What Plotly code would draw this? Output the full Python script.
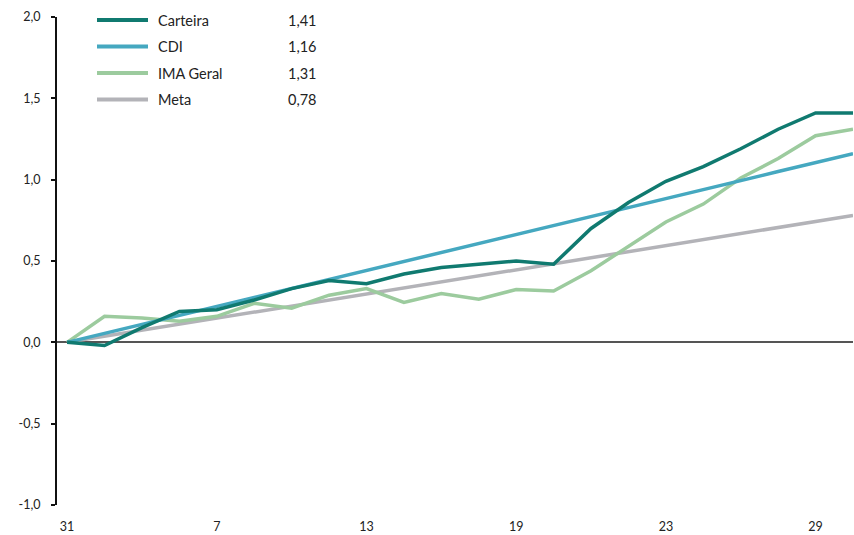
import plotly.graph_objects as go

# Business days of the month (first point is the last day of the previous month)
days = ["31", "2", "5", "6", "7", "8", "9", "12", "13", "14", "15", "16",
        "19", "20", "21", "22", "23", "26", "27", "28", "29", "30"]
tick_days = ["31", "7", "13", "19", "23", "29"]

# y-axis ticks, labelled with comma decimals and a plain hyphen for negatives
y_ticks = [-1.0, -0.5, 0.0, 0.5, 1.0, 1.5, 2.0]
y_tick_text = ["-1,0", "-0,5", "0,0", "0,5", "1,0", "1,5", "2,0"]

# Accumulated return (%)
carteira = [0.00, -0.02, 0.09, 0.19, 0.20, 0.26, 0.33, 0.38, 0.36, 0.42, 0.46, 0.48,
            0.50, 0.48, 0.70, 0.86, 0.99, 1.08, 1.19, 1.31, 1.41, 1.41]
cdi = [0.000, 0.055, 0.110, 0.166, 0.221, 0.276, 0.331, 0.387, 0.442, 0.497, 0.552,
       0.608, 0.663, 0.718, 0.773, 0.829, 0.884, 0.939, 0.994, 1.050, 1.105, 1.160]
ima_geral = [0.00, 0.16, 0.15, 0.13, 0.16, 0.24, 0.21, 0.29, 0.33, 0.245, 0.30, 0.265,
             0.325, 0.315, 0.44, 0.59, 0.74, 0.85, 1.01, 1.13, 1.27, 1.31]
meta = [0.000, 0.037, 0.074, 0.111, 0.149, 0.186, 0.223, 0.260, 0.297, 0.334, 0.371,
        0.409, 0.446, 0.483, 0.520, 0.557, 0.594, 0.631, 0.669, 0.706, 0.743, 0.780]

series = [
    ("Carteira", carteira, "#107a70"),
    ("CDI", cdi, "#45a8c0"),
    ("IMA Geral", ima_geral, "#9ccb9e"),
    ("Meta", meta, "#b3b3b8"),
]

FONT = "Lato, 'Open Sans', sans-serif"
W, H = 854, 535
ML, MR, MT, MB = 57, 1, 17, 30
PW, PH = W - ML - MR, H - MT - MB

fig = go.Figure()
# draw order: Meta underneath, Carteira on top
for name, vals, color in reversed(series):
    fig.add_trace(go.Scatter(x=days, y=vals, mode="lines", name=name,
                             line=dict(color=color, width=3.5),
                             showlegend=False))


def px_x(p):
    return (p - ML) / PW


def px_y(p):
    return (H - MB - p) / PH


# key box in the upper left: swatch, name and final value per series
shapes, annotations = [], []
row_y = [20, 46.5, 73, 99.5]
for (name, vals, color), ry in zip(series, row_y):
    shapes.append(dict(type="line", xref="paper", yref="paper",
                       x0=px_x(97), x1=px_x(148), y0=px_y(ry), y1=px_y(ry),
                       line=dict(color=color, width=4)))
    annotations.append(dict(xref="paper", yref="paper", x=px_x(156), y=px_y(ry),
                            text=name, showarrow=False, xanchor="left", yanchor="middle",
                            font=dict(family=FONT, size=14.5, color="#222")))
    annotations.append(dict(xref="paper", yref="paper", x=px_x(319), y=px_y(ry),
                            text=f"{vals[-1]:.2f}".replace(".", ","), showarrow=False,
                            xanchor="right", yanchor="middle",
                            font=dict(family=FONT, size=14.5, color="#222")))

fig.update_layout(
    width=W, height=H,
    margin=dict(l=ML, r=MR, t=MT, b=MB),
    paper_bgcolor="white", plot_bgcolor="white",
    font=dict(family=FONT, size=12, color="#222"),
    shapes=shapes, annotations=annotations,
    showlegend=False,
)
fig.update_xaxes(
    type="category", categoryorder="array", categoryarray=days,
    range=[-0.27, 21.0],
    tickmode="array", tickvals=tick_days, ticktext=tick_days,
    showgrid=False, showline=False, ticks="", zeroline=False,
    ticklabelstandoff=12,
    tickfont=dict(family=FONT, size=12.5, color="#222"),
)
fig.update_yaxes(
    range=[-1.0, 2.0], tickmode="array", tickvals=y_ticks, ticktext=y_tick_text,
    showgrid=False, showline=True, linecolor="#111", linewidth=2,
    ticks="outside", ticklen=4, tickwidth=2, tickcolor="#111",
    zeroline=True, zerolinecolor="#555", zerolinewidth=2,
    ticklabelstandoff=8,
    tickfont=dict(family=FONT, size=12.5, color="#222"),
)

fig.write_html("out.html")
